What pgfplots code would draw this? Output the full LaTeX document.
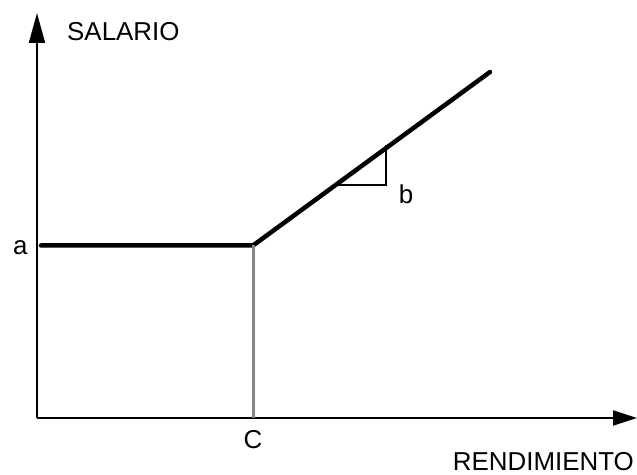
\documentclass[border=0pt]{standalone}
\usepackage{fontspec}
\setmainfont{Liberation Sans}
\usepackage{pgfplots}
\pgfplotsset{compat=1.18}
\usetikzlibrary{arrows.meta}
\begin{document}
\begin{tikzpicture}[font=\fontsize{26}{31}\selectfont]
\begin{axis}[
  at={(37bp,57bp)}, anchor=origin,
  x=1bp, y=1bp,
  xmin=0, xmax=600, ymin=0, ymax=405,
  axis lines=left,
  axis line style={line width=1.9bp, black},
  x axis line style={-{Triangle[length=24bp,width=15bp]}},
  y axis line style={-{Triangle[length=30bp,width=16bp]}},
  xtick={216}, xticklabels={C},
  ytick={172.5}, yticklabels={a},
  major tick length=0pt,
  xticklabel style={yshift=-9bp},
  yticklabel style={xshift=-6bp, yshift=-2bp},
  clip=false,
  xlabel={RENDIMIENTO},
  xlabel style={at={(axis cs:597,-44)}, anchor=east, inner sep=0pt},
  ylabel={SALARIO},
  ylabel style={at={(axis cs:30,386)}, anchor=west, rotate=-90, inner sep=0pt},
]
% horizontal segment and slope
\addplot[black, line width=4.5bp, line cap=round, line join=round] coordinates {(4,172.5) (216,172.5) (453,346)};
% vertical gray
\addplot[gray!95, line width=3bp] coordinates {(216,0) (216,172.5)};
% slope triangle
\addplot[black, line width=2.5bp] coordinates {(301,233) (349,233) (349,273)};
\node[anchor=center] at (axis cs:369,224) {b};
\end{axis}
\pgfresetboundingbox
\path[use as bounding box] (0,0) rectangle (637bp,475bp);
\end{tikzpicture}
\end{document}
